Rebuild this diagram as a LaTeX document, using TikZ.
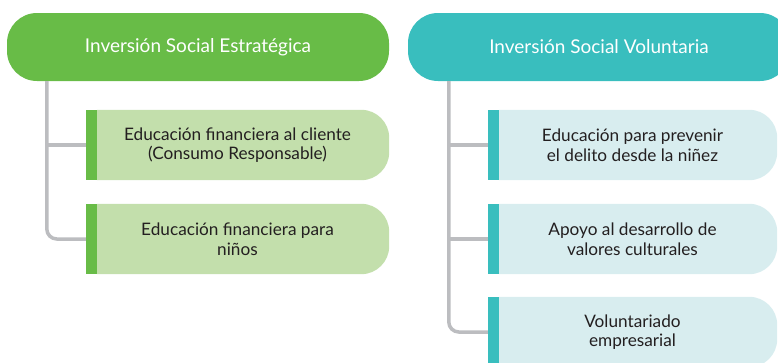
\documentclass[tikz,border=0pt]{standalone}
\usepackage{fontspec}
\setmainfont{Lato}
\usetikzlibrary{backgrounds}
\definecolor{isGreen}{HTML}{68BC47}
\definecolor{isGreenL}{HTML}{C3DFAC}
\definecolor{isTeal}{HTML}{39BEBE}
\definecolor{isTealL}{HTML}{D8EDEF}
\definecolor{lineGray}{HTML}{BCBDC0}
\definecolor{txtDark}{HTML}{231F20}
\begin{document}
\begin{tikzpicture}[x=1pt,y=-1pt,head/.style={rectangle,rounded corners=30pt,minimum width=382pt,minimum height=68pt,inner sep=0pt,text=white,font=\fontsize{19}{22}\selectfont},item/.style={rectangle,minimum height=70pt,inner sep=0pt,align=center,text=txtDark,font=\fontsize{17.2}{19.5}\selectfont},link/.style={draw=lineGray,line width=3.5pt,rounded corners=10pt}]
\useasboundingbox (0,0) rectangle (778,362);
\node[head,fill=isGreen] (strat) at (198,47) {Inversión Social Estratégica};
\node[head,fill=isTeal] (volun) at (599,47) {Inversión Social Voluntaria};
\node[item,minimum width=303pt] (client) at (237.5,145) {Educación financiera al cliente\\(Consumo Responsable)};
\node[item,minimum width=303pt] (kids) at (237.5,239) {Educación financiera para\\niños};
\node[item,minimum width=289pt] (crime) at (632.5,145) {Educación para prevenir\\el delito desde la niñez};
\node[item,minimum width=289pt] (culture) at (632.5,239) {Apoyo al desarrollo de\\valores culturales};
\node[item,minimum width=289pt] (volunteer) at (632.5,332) {Voluntariado\\empresarial};
\begin{scope}[on background layer]
\foreach \n/\bar/\tint in {client/isGreen/isGreenL,kids/isGreen/isGreenL,crime/isTeal/isTealL,culture/isTeal/isTealL,volunteer/isTeal/isTealL}{
  \fill[\tint] ([xshift=11pt]\n.north west) -- ([xshift=-28pt]\n.north east) arc[start angle=90,end angle=0,radius=28pt] -- ([yshift=28pt]\n.south east) arc[start angle=0,end angle=-90,radius=28pt] -- ([xshift=11pt]\n.south west) -- cycle;
  \fill[\bar] (\n.north west) rectangle ([xshift=11pt]\n.south west);
}
\end{scope}
\coordinate (trunkA) at ([xshift=40pt]strat.south west);
\coordinate (trunkB) at ([xshift=41pt]volun.south west);
\draw[link] (trunkA) |- (kids.west);
\draw[link] (trunkA |- client.west) -- (client.west);
\draw[link] (trunkB) |- (volunteer.west);
\draw[link] (trunkB |- crime.west) -- (crime.west);
\draw[link] (trunkB |- culture.west) -- (culture.west);
\end{tikzpicture}
\end{document}
